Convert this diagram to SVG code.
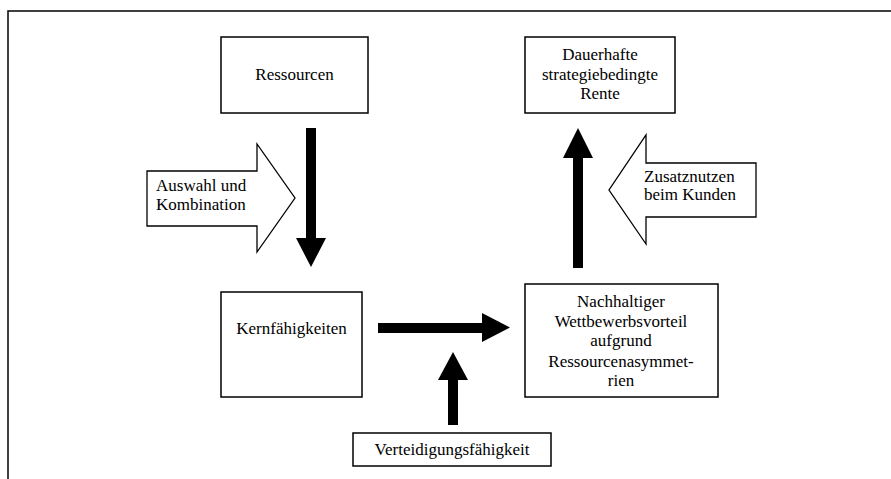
<svg xmlns="http://www.w3.org/2000/svg" width="891" height="479" viewBox="0 0 891 479">
<style>
.box{fill:#fff;stroke:#000;stroke-width:1.5}
.blk{fill:#000;stroke:none}
.hollow{fill:#fff;stroke:#000;stroke-width:1.3;stroke-linejoin:miter}
text{font-family:"Liberation Serif","Times New Roman",serif;font-size:17px;fill:#000}
.c{text-anchor:middle}
</style>
<rect width="891" height="479" fill="#fff"/>
<g id="frame" fill="none" stroke="#000" stroke-width="1.5">
<polyline points="8,479 8,11 891,11"/>
</g>
<g id="ressourcen">
<rect class="box" x="221" y="37" width="147" height="76"/>
<text class="c" x="294.5" y="80">Ressourcen</text>
</g>
<g id="rente">
<rect class="box" x="525" y="37" width="150" height="76"/>
<text class="c" x="600" y="60">Dauerhafte</text>
<text class="c" x="600" y="80">strategiebedingte</text>
<text class="c" x="600" y="99">Rente</text>
</g>
<g id="kernfaehigkeiten">
<rect class="box" x="221" y="292" width="141" height="105"/>
<text class="c" x="291.5" y="334">Kernfähigkeiten</text>
</g>
<g id="wettbewerbsvorteil">
<rect class="box" x="525" y="284" width="193" height="113"/>
<text class="c" x="621" y="307">Nachhaltiger</text>
<text class="c" x="621" y="327">Wettbewerbsvorteil</text>
<text class="c" x="621" y="346">aufgrund</text>
<text class="c" x="621" y="367">Ressourcenasymmet-</text>
<text class="c" x="621" y="386">rien</text>
</g>
<g id="verteidigung">
<rect class="box" x="353" y="433" width="198" height="33"/>
<text class="c" x="452" y="455">Verteidigungsfähigkeit</text>
</g>
<g id="auswahl">
<polygon class="hollow" points="147,171 257,171 257,144 295,198 257,252 257,226 147,226"/>
<text x="156" y="191">Auswahl und</text>
<text x="156" y="210">Kombination</text>
</g>
<g id="zusatznutzen">
<polygon class="hollow" points="756,163 646,163 646,135 609,190 646,244 646,217 756,217"/>
<text x="644" y="182">Zusatznutzen</text>
<text x="644" y="200">beim Kunden</text>
</g>
<g id="connectors">
<polygon class="blk" points="306,128 316,128 316,238 326,238 311,267 296,238 306,238"/>
<polygon class="blk" points="573,268 583,268 583,158 593,158 578,128 563,158 573,158"/>
<polygon class="blk" points="378,323 482,323 482,313 510,327.5 482,342 482,333 378,333"/>
<polygon class="blk" points="448,425 458,425 458,380 468,380 453,352 438,380 448,380"/>
</g>
</svg>
